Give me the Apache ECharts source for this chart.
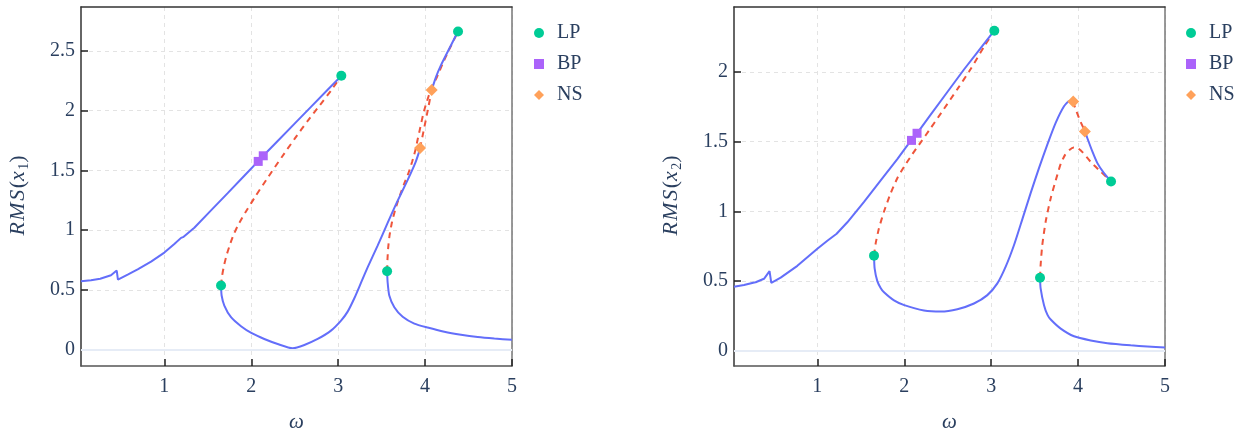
<!DOCTYPE html>
<html>
<head>
<meta charset="utf-8">
<script src="https://cdn.jsdelivr.net/npm/echarts@6/dist/echarts.min.js"></script>
<style>
html,body{margin:0;padding:0;background:#fff;}
#chart{width:1245px;height:430px;}
</style>
</head>
<body>
<div id="chart"></div>
<script>
// ---------- axis ranges and ticks ----------
const omegaRange = [0.041, 5];
const omegaTicks = [1, 2, 3, 4, 5];
const y1Range = [-0.137, 2.867];
const y1Ticks = [0, 0.5, 1, 1.5, 2, 2.5];
const y2Range = [-0.108, 2.465];
const y2Ticks = [0, 0.5, 1, 1.5, 2];
const legendNames = ['LP', 'BP', 'NS'];

// ---------- RMS(x1) : [omega, value] ----------
const x1Stable1 = [[0.041,0.572],[0.156,0.580],[0.262,0.593],[0.270,0.588],[0.285,0.595],[0.386,0.622],[0.452,0.662],[0.466,0.586],[0.578,0.628],[0.693,0.672],[0.847,0.737],[1.0,0.812],[1.115,0.883],[1.192,0.935],[1.205,0.944],[1.222,0.944],[1.345,1.020],[1.537,1.165],[1.729,1.310],[1.920,1.455],[2.078,1.575],[2.135,1.620],[2.304,1.746],[2.496,1.889],[2.687,2.031],[2.879,2.174],[3.036,2.291]];
const x1Unstable1 = [[1.652,0.536],[1.665,0.620],[1.687,0.706],[1.720,0.800],[1.760,0.890],[1.794,0.957],[1.840,1.030],[1.891,1.097],[1.948,1.167],[2.050,1.285],[2.200,1.450],[2.350,1.610],[2.500,1.765],[2.650,1.915],[2.791,2.047],[2.920,2.170],[3.036,2.291]];
const x1Stable2 = [[1.652,0.536],[1.659,0.453],[1.690,0.369],[1.767,0.271],[1.882,0.196],[2.0,0.140],[2.150,0.089],[2.304,0.047],[2.476,0.011],[2.611,0.039],[2.764,0.089],[2.917,0.159],[3.033,0.243],[3.109,0.318],[3.186,0.430],[3.263,0.560],[3.340,0.690],[3.454,0.870],[3.569,1.060],[3.674,1.230],[3.800,1.420],[3.885,1.558],[3.931,1.655],[3.942,1.687]];
const x1UnstableNS = [[3.942,1.687],[3.980,1.820],[4.030,2.000],[4.076,2.173]];
const x1Stable3 = [[4.076,2.173],[4.126,2.282],[4.183,2.380],[4.260,2.492],[4.337,2.603],[4.379,2.662]];
const x1Unstable2 = [[3.563,0.656],[3.567,0.750],[3.575,0.850],[3.590,0.950],[3.620,1.070],[3.660,1.180],[3.710,1.290],[3.760,1.390],[3.810,1.480],[3.850,1.570],[3.885,1.660],[3.915,1.760],[3.945,1.860],[3.975,1.960],[4.005,2.040],[4.040,2.120],[4.080,2.200],[4.130,2.270],[4.200,2.390],[4.270,2.500],[4.330,2.590],[4.379,2.662]];
const x1Stable4 = [[3.563,0.656],[3.569,0.564],[3.588,0.453],[3.646,0.355],[3.742,0.275],[3.876,0.218],[4.029,0.185],[4.221,0.150],[4.413,0.125],[4.605,0.106],[4.797,0.093],[5.0,0.082]];
const x1LP = [[1.652,0.536],[3.036,2.291],[3.563,0.656],[4.379,2.662]];
const x1BP = [[2.080,1.575],[2.138,1.622]];
const x1NS = [[3.942,1.687],[4.076,2.173]];

// ---------- RMS(x2) : [omega, value] ----------
const x2Stable1 = [[0.041,0.460],[0.156,0.472],[0.262,0.489],[0.272,0.483],[0.290,0.492],[0.386,0.517],[0.450,0.572],[0.470,0.488],[0.578,0.525],[0.770,0.610],[1.0,0.733],[1.115,0.790],[1.222,0.840],[1.345,0.922],[1.537,1.068],[1.729,1.222],[1.920,1.375],[2.080,1.511],[2.147,1.559],[2.304,1.693],[2.496,1.856],[2.687,2.017],[2.879,2.170],[3.036,2.295]];
const x2Unstable1 = [[1.652,0.683],[1.671,0.771],[1.709,0.879],[1.767,0.999],[1.844,1.131],[1.920,1.238],[2.0,1.322],[2.093,1.410],[2.189,1.495],[2.304,1.597],[2.457,1.735],[2.611,1.876],[2.764,2.020],[2.917,2.180],[3.036,2.295]];
const x2Stable2 = [[1.652,0.683],[1.659,0.592],[1.690,0.500],[1.730,0.450],[1.767,0.420],[1.882,0.362],[2.0,0.328],[2.227,0.290],[2.421,0.282],[2.611,0.299],[2.802,0.340],[2.956,0.400],[3.071,0.484],[3.167,0.604],[3.263,0.759],[3.359,0.945],[3.454,1.131],[3.550,1.310],[3.646,1.478],[3.742,1.634],[3.838,1.753],[3.896,1.789],[3.942,1.787]];
const x2UnstableNS = [[3.942,1.787],[3.980,1.720],[4.030,1.640],[4.080,1.574]];
const x2Stable3 = [[4.080,1.574],[4.106,1.526],[4.164,1.430],[4.222,1.346],[4.298,1.274],[4.379,1.214]];
const x2Unstable2 = [[3.562,0.525],[3.569,0.616],[3.588,0.759],[3.627,0.927],[3.685,1.095],[3.761,1.262],[3.800,1.340],[3.850,1.405],[3.900,1.440],[3.950,1.458],[4.000,1.452],[4.050,1.425],[4.145,1.355],[4.260,1.285],[4.379,1.214]];
const x2Stable4 = [[3.562,0.525],[3.569,0.448],[3.608,0.328],[3.648,0.258],[3.685,0.225],[3.800,0.160],[3.953,0.105],[4.145,0.075],[4.337,0.055],[4.605,0.040],[4.797,0.032],[5.0,0.024]];
const x2LP = [[1.652,0.683],[3.036,2.295],[3.562,0.525],[4.379,1.214]];
const x2BP = [[2.083,1.509],[2.147,1.560]];
const x2NS = [[3.944,1.787],[4.078,1.573]];

// ---------- styling ----------
const TXT = '#2a3f5f';
const SERIF = "'Liberation Serif', 'Times New Roman', Times, 'DejaVu Serif', serif";
const BLUE = '#636efa', RED = '#ef553b', GREEN = '#00cc96', PURPLE = '#ab63fa', ORANGE = '#ffa15a';

function lineSeries(idx, data, dashed, smooth) {
  return {
    type: 'line', xAxisIndex: idx, yAxisIndex: idx, data: data,
    showSymbol: false, symbol: 'none', silent: true, z: 3, smooth: smooth,
    lineStyle: { color: dashed ? RED : BLUE, width: 2, type: dashed ? [6, 5] : 'solid' },
    emphasis: { disabled: true }
  };
}
function pointSeries(idx, name, data, symbol, size, color) {
  return {
    type: 'scatter', name: name, xAxisIndex: idx, yAxisIndex: idx, data: data,
    symbol: symbol, symbolSize: size, z: 5, itemStyle: { color: color, opacity: 1 }
  };
}
function zeroSeries(idx) {
  return {
    type: 'line', xAxisIndex: idx, yAxisIndex: idx, data: [], silent: true, z: 1,
    markLine: { silent: true, symbol: 'none', label: { show: false },
      lineStyle: { color: '#e6ecf6', width: 2, type: 'solid' },
      data: [{ yAxis: 0 }] }
  };
}
function xAxisMain(idx) {
  return {
    type: 'value', gridIndex: idx, min: omegaRange[0], max: omegaRange[1],
    name: 'ω', nameLocation: 'middle', nameGap: 46,
    nameTextStyle: { fontFamily: SERIF, fontStyle: 'italic', fontSize: 21, color: TXT },
    axisLine: { show: true, onZero: false, lineStyle: { color: '#555', width: 1.5 } },
    axisTick: { show: true, inside: true, length: 7, customValues: omegaTicks, lineStyle: { color: '#222', width: 1.5 } },
    axisLabel: { customValues: omegaTicks, margin: 11, fontFamily: SERIF, fontSize: 20, color: TXT },
    splitLine: { show: true, lineStyle: { color: '#e3e3e3', width: 1, type: [4, 4] } }
  };
}
function xAxisTop(idx) {
  return {
    type: 'value', gridIndex: idx, position: 'top', min: omegaRange[0], max: omegaRange[1],
    axisLine: { show: true, onZero: false, lineStyle: { color: '#333', width: 1.5 } },
    axisTick: { show: false }, axisLabel: { show: false }, splitLine: { show: false }
  };
}
function yAxisMain(idx, range, ticks, sub) {
  return {
    type: 'value', gridIndex: idx, min: range[0], max: range[1],
    name: '{i|R}{i|M}{i|S}{p|(}{i|x}{s|' + sub + '}{p|)}',
    nameLocation: 'middle', nameGap: 50, nameRotate: 90,
    nameTextStyle: {
      padding: [0, 18, 0, 0],
      rich: {
        i: { fontFamily: SERIF, fontStyle: 'italic', fontSize: 22, color: TXT, padding: [0, 1.5, 0, 0], lineHeight: 26 },
        p: { fontFamily: SERIF, fontSize: 22, color: TXT, lineHeight: 26 },
        s: { fontFamily: SERIF, fontSize: 14, color: TXT, verticalAlign: 'bottom', lineHeight: 26 }
      }
    },
    axisLine: { show: true, onZero: false, lineStyle: { color: '#333', width: 1.5 } },
    axisTick: { show: true, inside: true, length: 7, customValues: ticks, lineStyle: { color: '#222', width: 1.5 } },
    axisLabel: { customValues: ticks, margin: 6, fontFamily: SERIF, fontSize: 20, color: TXT },
    splitLine: { show: true, lineStyle: { color: '#e3e3e3', width: 1, type: [4, 4] } }
  };
}
function yAxisRight(idx, range) {
  return {
    type: 'value', gridIndex: idx, position: 'right', min: range[0], max: range[1],
    axisLine: { show: true, onZero: false, lineStyle: { color: '#777', width: 1.5 } },
    axisTick: { show: false }, axisLabel: { show: false }, splitLine: { show: false }
  };
}
function legendFor(left) {
  return {
    orient: 'vertical', left: left, top: 18, itemGap: 11, itemWidth: 10, itemHeight: 10,
    selectedMode: false,
    textStyle: { fontFamily: SERIF, fontSize: 20, color: TXT, padding: [0, 0, 0, 8] },
    data: [
      { name: legendNames[0], icon: 'circle' },
      { name: legendNames[1], icon: 'rect' },
      { name: legendNames[2], icon: 'diamond' }
    ]
  };
}

const charts = [
  { stable: [x1Stable1, x1Stable2, x1Stable3, x1Stable4], unstable: [x1Unstable1, x1UnstableNS, x1Unstable2], lp: x1LP, bp: x1BP, ns: x1NS },
  { stable: [x2Stable1, x2Stable2, x2Stable3, x2Stable4], unstable: [x2Unstable1, x2UnstableNS, x2Unstable2], lp: x2LP, bp: x2BP, ns: x2NS }
];

const series = [];
charts.forEach((c, idx) => {
  series.push(zeroSeries(idx));
  c.unstable.forEach(d => series.push(lineSeries(idx, d, true, 0.2)));
  c.stable.forEach((d, k) => series.push(lineSeries(idx, d, false, k === 0 ? false : 0.2)));
  series.push(pointSeries(idx, legendNames[0], c.lp, 'circle', 10, GREEN));
  series.push(pointSeries(idx, legendNames[1], c.bp, 'rect', 9, PURPLE));
  series.push(pointSeries(idx, legendNames[2], c.ns, 'diamond', 12, ORANGE));
});

const option = {
  animation: false,
  backgroundColor: '#ffffff',
  textStyle: { fontFamily: SERIF },
  grid: [
    { left: 81, top: 7, width: 431, height: 359, show: false, containLabel: false, outerBoundsMode: 'none' },
    { left: 734, top: 7, width: 431, height: 359, show: false, containLabel: false, outerBoundsMode: 'none' }
  ],
  legend: [legendFor(529), legendFor(1181)],
  xAxis: [xAxisMain(0), xAxisMain(1), xAxisTop(0), xAxisTop(1)],
  yAxis: [yAxisMain(0, y1Range, y1Ticks, '1'), yAxisMain(1, y2Range, y2Ticks, '2'), yAxisRight(0, y1Range), yAxisRight(1, y2Range)],
  series: series
};

const chart = echarts.init(document.getElementById('chart'), null, { renderer: 'canvas' });
chart.setOption(option);
</script>
</body>
</html>
